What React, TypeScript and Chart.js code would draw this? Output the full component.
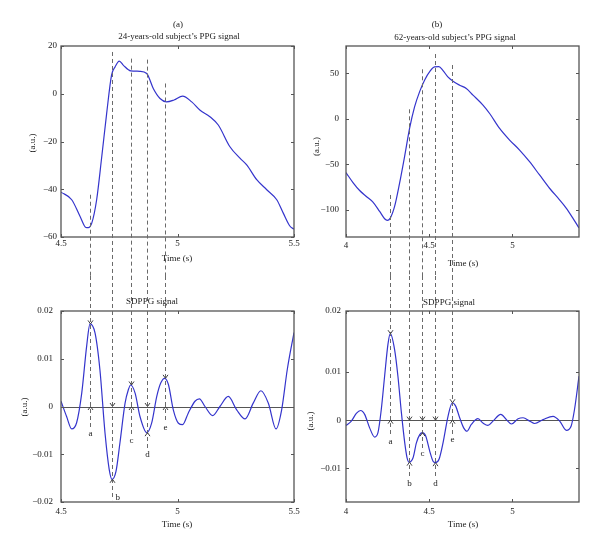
import React, { useEffect, useRef } from 'react';
import { Chart, registerables } from 'chart.js';
Chart.register(...registerables);

const FONT = '"Liberation Serif", "Times New Roman", serif';
const LINE_COLOR = '#3434cc';
const AXIS_COLOR = '#555555';
const DASH_COLOR = '#6a6a6a';
const TEXT_COLOR = '#222222';

// ---------- (a) 24-years-old subject's PPG signal ----------
const ppgA_t = [4.5, 4.546, 4.582, 4.607, 4.617, 4.632, 4.653, 4.675, 4.696, 4.717, 4.732, 4.75, 4.768, 4.799, 4.839, 4.868, 4.896, 4.925, 4.953, 4.985, 5.022, 5.061, 5.097, 5.139, 5.175, 5.225, 5.268, 5.297, 5.34, 5.383, 5.426, 5.454, 5.483, 5.5];
const ppgA_v = [-41.2, -44.4, -51.4, -56, -56.1, -54.2, -44.4, -26.3, -8.2, 7.8, 11.2, 13.7, 11.9, 9.6, 9.4, 8.5, 2.2, -2.0, -3.4, -2.6, -1.0, -3.4, -6.9, -9.6, -13.1, -22.2, -27, -29.8, -36, -40.2, -44.4, -50, -55.5, -56.7];
const ppgA_xTicks = [4.5, 5, 5.5];
const ppgA_yTicks = [-60, -40, -20, 0, 20];
const ppgA_yLabels = ['\u221260', '\u221240', '\u221220', '0', '20'];

// ---------- (a) SDPPG signal ----------
const sdA_t = [4.5, 4.524, 4.546, 4.567, 4.589, 4.61, 4.6245, 4.646, 4.667, 4.689, 4.707, 4.719, 4.736, 4.753, 4.775, 4.789, 4.799, 4.818, 4.839, 4.868, 4.889, 4.911, 4.928, 4.945, 4.961, 4.982, 5.004, 5.022, 5.046, 5.075, 5.094, 5.118, 5.151, 5.182, 5.218, 5.254, 5.29, 5.325, 5.358, 5.39, 5.423, 5.447, 5.471, 5.5];
const sdA_v = [0.0011, -0.0021, -0.0047, -0.0034, 0.0028, 0.0126, 0.0173, 0.0154, 0.0077, -0.0056, -0.0132, -0.01525, -0.0136, -0.0076, 0.0007, 0.0035, 0.0045, 0.0028, -0.0021, -0.00548, -0.0035, 0.0021, 0.0049, 0.0059, 0.0046, -0.0007, -0.0035, -0.0038, -0.0014, 0.0011, 0.0016, 0, -0.0019, 0, 0.0021, -0.0007, -0.0026, 0.0007, 0.0033, 0.0007, -0.0047, -0.0007, 0.0077, 0.0155];
const sdA_yTicks = [-0.02, -0.01, 0, 0.01, 0.02];
const sdA_yLabels = ['\u22120.02', '\u22120.01', '0', '0.01', '0.02'];

// wave markers a..e, subject (a)
const markA_t = [4.6245, 4.719, 4.799, 4.868, 4.945];
const markA_ppgTop = [-42.3, 17.5, 14.7, 14.3, 4.3];
const markA_ext = [0.0173, -0.01525, 0.0045, -0.00548, 0.0059];
const markA_end = [-0.0047, -0.0196, -0.006, -0.0091, -0.00346];

// ---------- (b) 62-years-old subject's PPG signal ----------
const ppgB_t = [4.0, 4.042, 4.082, 4.122, 4.162, 4.202, 4.232, 4.248, 4.266, 4.292, 4.322, 4.352, 4.382, 4.412, 4.442, 4.472, 4.506, 4.532, 4.558, 4.582, 4.612, 4.643, 4.683, 4.723, 4.763, 4.823, 4.863, 4.923, 4.983, 5.043, 5.103, 5.163, 5.223, 5.283, 5.323, 5.363, 5.4];
const ppgB_v = [-59.2, -70.1, -78.9, -85.4, -91.7, -101.9, -109.9, -111.7, -109.2, -96.4, -70.8, -41.6, -10.6, 13.1, 29.6, 42.4, 52.6, 57, 57.4, 53.3, 46, 41.3, 36.9, 33.3, 26, 15, 5.8, -10.6, -23.4, -34.4, -47.2, -61.8, -76.4, -89.1, -98.2, -109.2, -120.1];
const ppgB_xTicks = [4, 4.5, 5];
const ppgB_yTicks = [-100, -50, 0, 50];
const ppgB_yLabels = ['\u2212100', '\u221250', '0', '50'];

// ---------- (b) SDPPG signal ----------
const sdB_t = [4.0, 4.032, 4.062, 4.088, 4.112, 4.142, 4.172, 4.192, 4.212, 4.232, 4.252, 4.266, 4.292, 4.312, 4.333, 4.353, 4.367, 4.379, 4.403, 4.423, 4.443, 4.459, 4.479, 4.503, 4.523, 4.537, 4.559, 4.583, 4.613, 4.639, 4.659, 4.683, 4.707, 4.727, 4.753, 4.793, 4.823, 4.853, 4.883, 4.93, 4.964, 4.994, 5.034, 5.064, 5.104, 5.134, 5.184, 5.244, 5.284, 5.324, 5.353, 5.373, 5.4];
const sdB_v = [-0.0011, -0.0002, 0.0014, 0.002, 0.0012, -0.0016, -0.0035, -0.0026, 0.0022, 0.0091, 0.0157, 0.0179, 0.0146, 0.0091, 0.0015, -0.0047, -0.0078, -0.0087, -0.0078, -0.0047, -0.003, -0.0026, -0.0033, -0.0064, -0.0085, -0.0088, -0.0081, -0.0047, 0.0008, 0.0036, 0.0029, 0.0005, -0.0016, -0.0023, -0.0009, 0.0003, -0.0006, -0.0011, -0.0002, 0.0012, 0.0001, -0.0008, 0.0003, 0.0005, -0.0002, -0.0007, 0.0001, 0.0008, -0.0002, -0.0021, -0.0012, 0.0022, 0.0091];
const sdB_yTicks = [-0.01, 0, 0.01, 0.0226];
const sdB_yLabels = ['\u22120.01', '0', '0.01', '0.02'];

const markB_t = [4.266, 4.379, 4.459, 4.537, 4.639];
const markB_ppgTop = [-83.8, 10.4, 54.4, 71.2, 59.1];
const markB_ext = [0.0179, -0.0087, -0.0026, -0.0088, 0.0036];
const markB_end = [-0.00348, -0.01208, -0.00586, -0.01208, -0.00296];

const waveLabels = ['a', 'b', 'c', 'd', 'e'];

type Txt = { text: string; x: number; y: number; rot?: boolean };
type Panel = {
  cx: number; cy: number; w: number; h: number;
  area: { l: number; r: number; t: number; b: number };
  xMin: number; xMax: number; xTicks: number[];
  yMin: number; yMax: number; yTicks: number[]; yLabels: string[];
  t: number[]; v: number[];
  xPad: number; yPad: number;
  zero: boolean;
  texts: Txt[];
  marksTop?: { t: number[]; top: number[] };
  marksBottom?: { t: number[]; ext: number[]; end: number[]; side: string[] };
};

const panels: Panel[] = [
  {
    cx: 0, cy: 0, w: 306, h: 276,
    area: { l: 61, r: 294, t: 46, b: 237 },
    xMin: 4.5, xMax: 5.5, xTicks: ppgA_xTicks,
    yMin: -60, yMax: 20, yTicks: ppgA_yTicks, yLabels: ppgA_yLabels,
    t: ppgA_t, v: ppgA_v, xPad: 1, yPad: 4, zero: false,
    texts: [
      { text: '(a)', x: 178, y: 24.5 },
      { text: '24-years-old subject\u2019s PPG signal', x: 179, y: 36.5 },
      { text: 'Time (s)', x: 177, y: 258.5 },
      { text: '(a.u.)', x: 32.5, y: 143, rot: true },
    ],
    marksTop: { t: markA_t, top: markA_ppgTop },
  },
  {
    cx: 300, cy: 0, w: 300, h: 276,
    area: { l: 46, r: 279, t: 46, b: 237 },
    xMin: 4, xMax: 5.4, xTicks: ppgB_xTicks,
    yMin: -130, yMax: 80, yTicks: ppgB_yTicks, yLabels: ppgB_yLabels,
    t: ppgB_t, v: ppgB_v, xPad: 3, yPad: 7, zero: false,
    texts: [
      { text: '(b)', x: 137, y: 24.5 },
      { text: '62-years-old subject\u2019s PPG signal', x: 155, y: 37.5 },
      { text: 'Time (s)', x: 163, y: 263.5 },
      { text: '(a.u.)', x: 17, y: 146.5, rot: true },
    ],
    marksTop: { t: markB_t, top: markB_ppgTop },
  },
  {
    cx: 0, cy: 276, w: 306, h: 276,
    area: { l: 61, r: 294, t: 35, b: 226 },
    xMin: 4.5, xMax: 5.5, xTicks: ppgA_xTicks,
    yMin: -0.02, yMax: 0.02, yTicks: sdA_yTicks, yLabels: sdA_yLabels,
    t: sdA_t, v: sdA_v, xPad: 4, yPad: 8, zero: true,
    texts: [
      { text: 'SDPPG signal', x: 152, y: 26 },
      { text: 'Time (s)', x: 177, y: 249 },
      { text: '(a.u.)', x: 25, y: 131, rot: true },
    ],
    marksBottom: { t: markA_t, ext: markA_ext, end: markA_end, side: ['below', 'right', 'below', 'below', 'below'] },
  },
  {
    cx: 300, cy: 276, w: 300, h: 276,
    area: { l: 46, r: 279, t: 35, b: 226 },
    xMin: 4, xMax: 5.4, xTicks: ppgB_xTicks,
    yMin: -0.01695, yMax: 0.0226, yTicks: sdB_yTicks, yLabels: sdB_yLabels,
    t: sdB_t, v: sdB_v, xPad: 4, yPad: 5, zero: true,
    texts: [
      { text: 'SDPPG signal', x: 149, y: 26.5 },
      { text: 'Time (s)', x: 163, y: 249 },
      { text: '(a.u.)', x: 10.5, y: 145, rot: true },
    ],
    marksBottom: { t: markB_t, ext: markB_ext, end: markB_end, side: ['below', 'below', 'below', 'below', 'below'] },
  },
];

function fmtX(v: number) {
  return String(v);
}

function makePlugin(p: Panel) {
  return {
    id: 'deco',
    beforeDatasetsDraw(chart: any) {
      if (!p.zero) return;
      const { ctx, chartArea: a, scales } = chart;
      const y0 = Math.round(scales.y.getPixelForValue(0)) + 0.5;
      ctx.save();
      ctx.strokeStyle = AXIS_COLOR;
      ctx.lineWidth = 1;
      ctx.beginPath();
      ctx.moveTo(a.left, y0);
      ctx.lineTo(a.right, y0);
      ctx.stroke();
      ctx.restore();
    },
    afterDatasetsDraw(chart: any) {
      const { ctx, chartArea: a, scales } = chart;
      const xs = scales.x;
      const ys = scales.y;
      ctx.save();
      ctx.strokeStyle = AXIS_COLOR;
      ctx.lineWidth = 1.3;
      ctx.strokeRect(a.left, a.top, a.right - a.left, a.bottom - a.top);
      ctx.lineWidth = 1;
      ctx.beginPath();
      p.xTicks.forEach((v) => {
        const px = Math.round(xs.getPixelForValue(v)) + 0.5;
        ctx.moveTo(px, a.bottom);
        ctx.lineTo(px, a.bottom - 3);
        ctx.moveTo(px, a.top);
        ctx.lineTo(px, a.top + 3);
      });
      p.yTicks.forEach((v) => {
        const py = Math.round(ys.getPixelForValue(v)) + 0.5;
        ctx.moveTo(a.left, py);
        ctx.lineTo(a.left + 3, py);
        ctx.moveTo(a.right, py);
        ctx.lineTo(a.right - 3, py);
      });
      ctx.stroke();

      ctx.strokeStyle = DASH_COLOR;
      ctx.lineWidth = 1;
      const mt = p.marksTop;
      if (mt) {
        ctx.setLineDash([4, 3]);
        ctx.beginPath();
        mt.t.forEach((t, i) => {
          const px = Math.round(xs.getPixelForValue(t)) + 0.5;
          ctx.moveTo(px, ys.getPixelForValue(mt.top[i]));
          ctx.lineTo(px, chart.height);
        });
        ctx.stroke();
      }
      const b = p.marksBottom;
      if (b) {
        ctx.setLineDash([4, 3]);
        ctx.beginPath();
        b.t.forEach((t, i) => {
          const px = Math.round(xs.getPixelForValue(t)) + 0.5;
          ctx.moveTo(px, 0);
          ctx.lineTo(px, ys.getPixelForValue(b.end[i]));
        });
        ctx.stroke();
        ctx.setLineDash([]);
        ctx.strokeStyle = '#404040';
        ctx.beginPath();
        b.t.forEach((t, i) => {
          const px = Math.round(xs.getPixelForValue(t)) + 0.5;
          const hi = ys.getPixelForValue(Math.max(b.ext[i], 0));
          const lo = ys.getPixelForValue(Math.min(b.ext[i], 0));
          ctx.moveTo(px - 2.5, hi - 3.5);
          ctx.lineTo(px, hi);
          ctx.lineTo(px + 2.5, hi - 3.5);
          ctx.moveTo(px - 2.5, lo + 3.5);
          ctx.lineTo(px, lo);
          ctx.lineTo(px + 2.5, lo + 3.5);
        });
        ctx.stroke();
        ctx.fillStyle = TEXT_COLOR;
        ctx.font = `9px ${FONT}`;
        b.t.forEach((t, i) => {
          const px = Math.round(xs.getPixelForValue(t)) + 0.5;
          const py = ys.getPixelForValue(b.end[i]);
          if (b.side[i] === 'right') {
            ctx.textAlign = 'left';
            ctx.textBaseline = 'middle';
            ctx.fillText(waveLabels[i], px + 3, py - 2);
          } else {
            ctx.textAlign = 'center';
            ctx.textBaseline = 'top';
            ctx.fillText(waveLabels[i], px, py + 0.5);
          }
        });
      }
      ctx.setLineDash([]);

      ctx.fillStyle = TEXT_COLOR;
      ctx.font = `9px ${FONT}`;
      ctx.textAlign = 'center';
      ctx.textBaseline = 'middle';
      p.texts.forEach((tx) => {
        if (tx.rot) {
          ctx.save();
          ctx.translate(tx.x, tx.y);
          ctx.rotate(-Math.PI / 2);
          ctx.fillText(tx.text, 0, 0);
          ctx.restore();
        } else {
          ctx.fillText(tx.text, tx.x, tx.y);
        }
      });
      ctx.restore();
    },
  };
}

function PanelChart({ p }: { p: Panel }) {
  const ref = useRef<HTMLCanvasElement | null>(null);
  useEffect(() => {
    if (!ref.current) return;
    const chart = new Chart(ref.current, {
      type: 'line',
      data: {
        datasets: [
          {
            data: p.t.map((x, i) => ({ x, y: p.v[i] })),
            borderColor: LINE_COLOR,
            borderWidth: 1.2,
            pointRadius: 0,
            fill: false,
            cubicInterpolationMode: 'monotone',
          },
        ],
      },
      options: {
        animation: false,
        responsive: false,
        devicePixelRatio: 1,
        events: [],
        layout: { padding: { left: 0, top: p.area.t, right: p.w - p.area.r, bottom: 0 } },
        plugins: { legend: { display: false }, tooltip: { enabled: false }, title: { display: false } },
        scales: {
          x: {
            type: 'linear',
            min: p.xMin,
            max: p.xMax,
            grid: { display: false, drawTicks: false },
            border: { display: false },
            ticks: {
              font: { family: FONT, size: 9 },
              color: TEXT_COLOR,
              padding: p.xPad,
              maxRotation: 0,
              autoSkip: false,
              callback: (v: any) => fmtX(Number(v)),
            },
            afterBuildTicks: (s: any) => {
              s.ticks = p.xTicks.map((value) => ({ value }));
            },
            afterFit: (s: any) => {
              s.height = p.h - p.area.b;
              s.paddingLeft = 0;
              s.paddingRight = 0;
            },
          },
          y: {
            type: 'linear',
            min: p.yMin,
            max: p.yMax,
            grid: { display: false, drawTicks: false },
            border: { display: false },
            ticks: {
              font: { family: FONT, size: 9 },
              color: TEXT_COLOR,
              padding: p.yPad,
              autoSkip: false,
              callback: (_v: any, i: number) => p.yLabels[i],
            },
            afterBuildTicks: (s: any) => {
              s.ticks = p.yTicks.map((value) => ({ value }));
            },
            afterFit: (s: any) => {
              s.width = p.area.l;
              s.paddingTop = 0;
              s.paddingBottom = 0;
            },
          },
        },
      } as any,
      plugins: [makePlugin(p)],
    });
    return () => chart.destroy();
  }, [p]);
  return (
    <canvas
      ref={ref}
      width={p.w}
      height={p.h}
      style={{ position: 'absolute', left: p.cx, top: p.cy, width: p.w, height: p.h }}
    />
  );
}

export default function App() {
  return (
    <div style={{ position: 'absolute', left: 0, top: 0, width: 600, height: 552, background: '#ffffff', overflow: 'hidden' }}>
      {panels.map((p, i) => (
        <PanelChart key={i} p={p} />
      ))}
    </div>
  );
}
